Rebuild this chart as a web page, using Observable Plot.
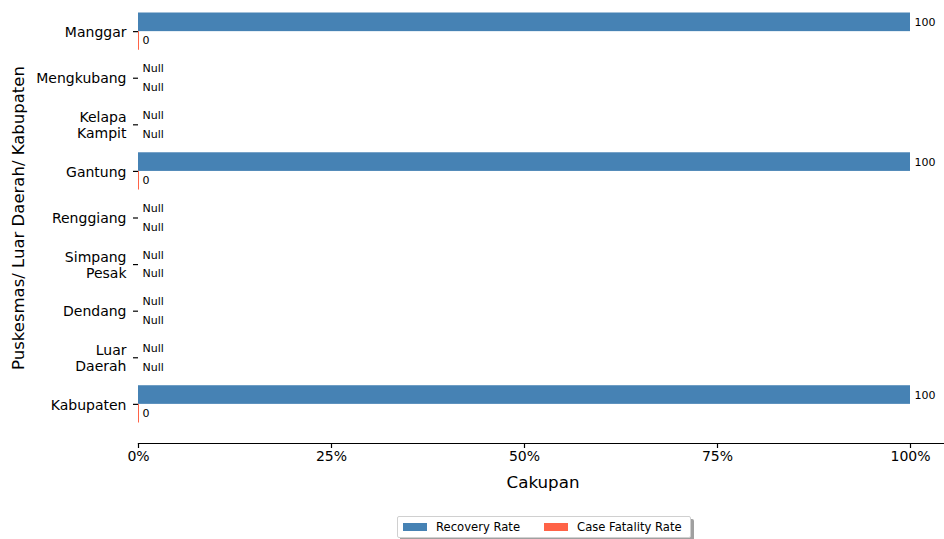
<!DOCTYPE html>
<html><head><meta charset="utf-8">
<script src="https://cdn.jsdelivr.net/npm/d3@7"></script>
<script src="https://cdn.jsdelivr.net/npm/@observablehq/plot@0.6"></script>
<style>
body{margin:0;background:#fff;font-family:"DejaVu Sans",sans-serif;}
#wrap{position:relative;width:944px;height:539px;overflow:hidden;}
#ylab{position:absolute;left:18px;top:218px;transform:translate(-50%,-50%) rotate(-90deg);font-size:16.5px;white-space:nowrap;color:#000;}
#xlab{position:absolute;left:543px;top:482px;transform:translate(-50%,-50%);font-size:16.7px;color:#000;}
#legend{position:absolute;left:397px;top:516px;width:292px;height:20px;border:1px solid #d0d0d0;border-radius:2px;background:#fff;box-shadow:3px 3px 0 #a0a0a0;font-size:11.6px;display:flex;align-items:center;}
.sw{display:inline-block;width:24px;height:8px;margin-left:5px;margin-right:9px;}
</style></head>
<body><div id="wrap"><div id="chart"></div>
<div id="ylab">Puskesmas/ Luar Daerah/ Kabupaten</div>
<div id="xlab">Cakupan</div>
<div id="legend"><span class="sw" style="background:#4682b4"></span><span>Recovery Rate</span><span class="sw" style="background:#ff6347;margin-left:24px"></span><span>Case Fatality Rate</span></div>
</div>
<script>
const names = ["Manggar","Mengkubang","Kelapa\nKampit","Gantung","Renggiang","Simpang\nPesak","Dendang","Luar\nDaerah","Kabupaten"];
const recovery = [100, null, null, 100, null, null, null, null, 100];
const cfr = [0, null, null, 0, null, null, null, null, 0];
const xTicks = [0, 25, 50, 75, 100];

const rec = names.map((n,i)=>({i, v: recovery[i]}));
const cf = names.map((n,i)=>({i, v: cfr[i]}));
const blue = "#4682b4", red = "#ff6347";

const chart = Plot.plot({
  width: 944, height: 510,
  marginLeft: 138, marginRight: 0, marginTop: 0, marginBottom: 67,
  style: {fontFamily: "DejaVu Sans, sans-serif", background: "#fff", color: "#000"},
  x: {domain: [0, 105], range: [138, 948.6]},
  y: {domain: [-0.84, 8.84], range: [-8, 443]},
  marks: [
    Plot.rectX(rec.filter(d=>d.v!=null), {x1: 0, x2: "v", y1: d=>d.i-0.4, y2: d=>d.i, fill: blue}),
    Plot.rectX(cf.filter(d=>d.v!=null), {x1: 0, x2: "v", y1: d=>d.i, y2: d=>d.i+0.4, fill: red}),
    Plot.ruleX(cf.filter(d=>d.v!=null), {x: "v", y1: d=>d.i, y2: d=>d.i+0.4, stroke: red, strokeWidth: 1}),
    Plot.text(rec, {x: d=>d.v ?? 0, y: d=>d.i-0.2, text: d=>d.v==null?"Null":String(d.v), textAnchor: "start", dx: 4, fontSize: 11, fill: "#000"}),
    Plot.text(cf, {x: d=>d.v ?? 0, y: d=>d.i+0.2, text: d=>d.v==null?"Null":String(d.v), textAnchor: "start", dx: 4, fontSize: 11, fill: "#000"}),
    Plot.frame({anchor: "bottom", stroke: "#000", strokeWidth: 1.2}),
    Plot.axisX(xTicks, {tickFormat: d=>d+"%", tickSize: 5, tickPadding: 3, fontSize: 14, label: null, strokeWidth: 1.2}),
    Plot.axisY(d3.range(names.length), {tickFormat: i=>names[i], tickSize: 5, tickPadding: 7, fontSize: 14, label: null, lineHeight: 1.15, strokeWidth: 1.2})
  ]
});
document.getElementById("chart").appendChild(chart);
</script></body></html>
